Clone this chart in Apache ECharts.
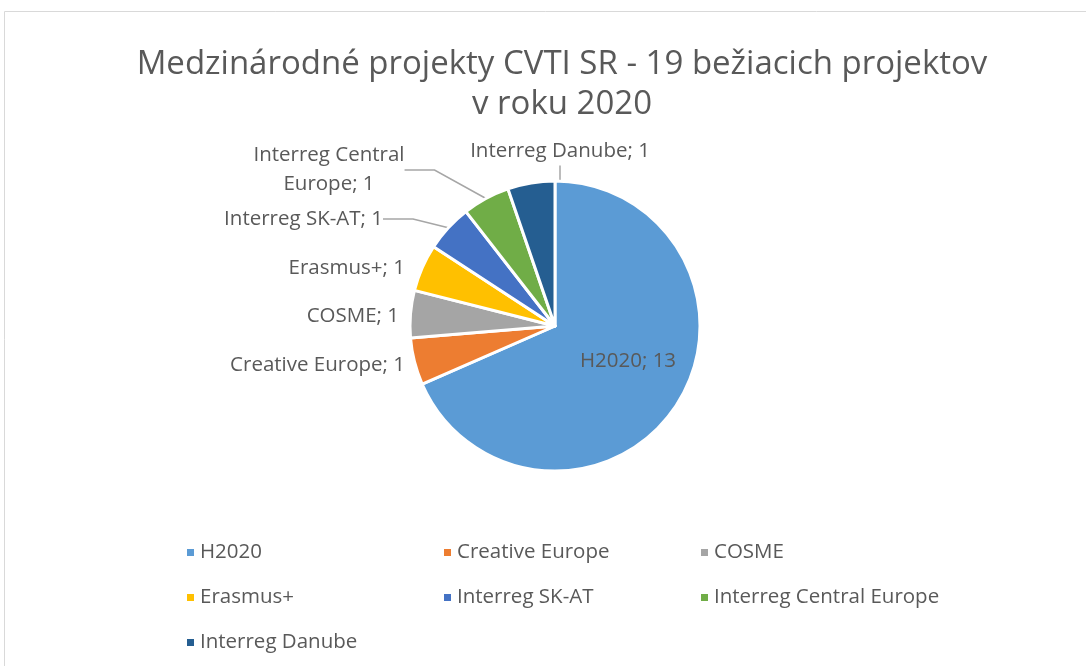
<!DOCTYPE html>
<html>
<head>
<meta charset="utf-8">
<script src="https://cdn.jsdelivr.net/npm/echarts@6/dist/echarts.min.js"></script>
<style>
    html, body { margin: 0; padding: 0; background: #fff; }
    #chart { width: 1086px; height: 666px; }
</style>
</head>
<body>
<div id="chart"></div>
<script>
    // data
    var categories = ['H2020', 'Creative Europe', 'COSME', 'Erasmus+', 'Interreg SK-AT', 'Interreg Central Europe', 'Interreg Danube'];
    var projects = [13, 1, 1, 1, 1, 1, 1];
    var titleText = 'Medzinárodné projekty CVTI SR - 19 bežiacich projektov\nv roku 2020';

    var colors = ['#5B9BD5', '#ED7D31', '#A5A5A5', '#FFC000', '#4472C4', '#70AD47', '#255E91'];
    var textColor = '#595959';
    var font = 'Open Sans';

    // label anchor per slice [x, y, align]
    var labelSpots = [
        [628, 361, 'center'],
        [405, 365, 'right'],
        [399, 316, 'right'],
        [405, 268, 'right'],
        [383, 219, 'right'],
        [329, 170, 'center'],
        [560, 151, 'center']
    ];
    var withLine = [false, false, false, false, true, true, true];

    // legend laid out in three columns, filled row by row
    var legendCols = [180, 437, 694];
    var legends = legendCols.map(function (x, col) {
        return {
            orient: 'vertical',
            left: x,
            top: 535,
            itemWidth: 9,
            itemHeight: 9,
            itemGap: 20,
            icon: 'rect',
            data: categories.filter(function (c, i) { return i % 3 === col; }),
            textStyle: {
                fontFamily: font,
                fontSize: 20.5,
                color: textColor,
                height: 25,
                lineHeight: 25
            }
        };
    });

    var chart = echarts.init(document.getElementById('chart'));
    chart.setOption({
        color: colors,
        animation: false,
        graphic: [{
            type: 'rect',
            shape: { x: 4.5, y: 11.5, width: 1100, height: 700 },
            style: { fill: null, stroke: '#d9d9d9', lineWidth: 1 },
            silent: true
        }],
        title: {
            text: titleText,
            left: 557,
            top: 40,
            textAlign: 'center',
            textStyle: {
                fontFamily: font,
                fontWeight: 'normal',
                fontSize: 33,
                lineHeight: 40,
                color: textColor
            }
        },
        legend: legends,
        series: [{
            type: 'pie',
            center: [555, 326],
            radius: 145,
            startAngle: 90,
            itemStyle: {
                borderColor: '#fff',
                borderWidth: 3
            },
            label: {
                show: true,
                formatter: function (p) {
                    if (p.dataIndex === 5) return 'Interreg Central\nEurope; ' + p.value;
                    return p.name + '; ' + p.value;
                },
                fontFamily: font,
                fontSize: 20.5,
                lineHeight: 29,
                color: textColor
            },
            labelLine: {
                show: true,
                lineStyle: { color: '#a6a6a6', width: 1.5 }
            },
            labelLayout: function (params) {
                var s = labelSpots[params.dataIndex];
                return { x: s[0], y: s[1], align: s[2], verticalAlign: 'middle' };
            },
            data: categories.map(function (c, i) {
                return { name: c, value: projects[i], labelLine: { show: withLine[i] } };
            })
        }]
    });
</script>
</body>
</html>
